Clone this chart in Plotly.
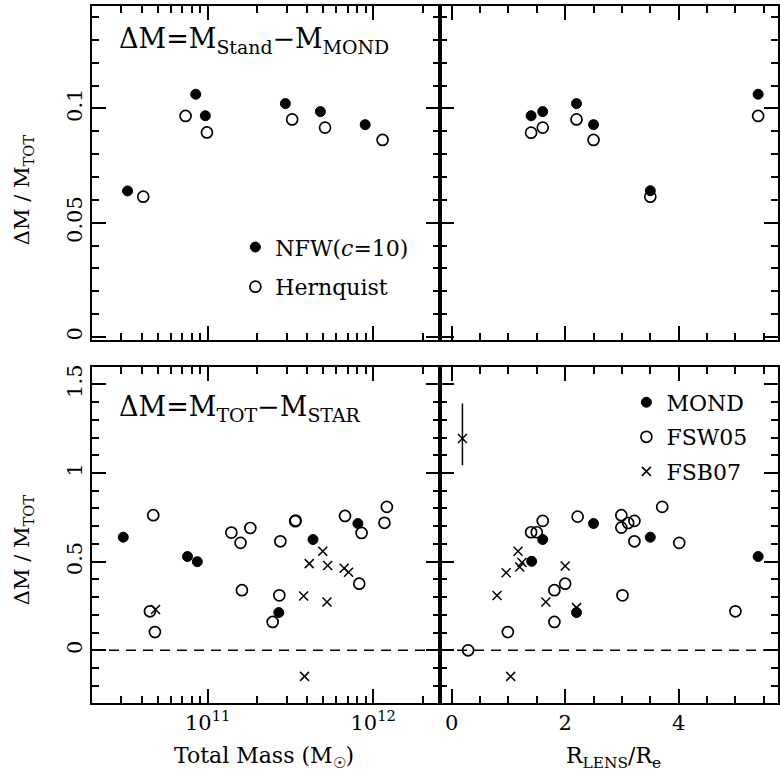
import plotly.graph_objects as go
import math

# ---- data: top panels (Delta M = M_Stand - M_MOND) ----
nfw_mass = [3.28e10, 8.47e10, 9.68e10, 2.95e11, 4.80e11, 8.95e11]
nfw_dm = [0.0639, 0.1062, 0.0968, 0.1021, 0.0986, 0.0929]
hern_mass = [4.08e10, 7.35e10, 9.90e10, 3.24e11, 5.12e11, 1.14e12]
hern_dm = [0.0614, 0.0967, 0.0895, 0.0952, 0.0916, 0.0862]
nfw_r = [1.40, 1.605, 2.20, 2.50, 3.50, 5.40]
nfw_dm_r = [0.0968, 0.0986, 0.1021, 0.0929, 0.0640, 0.1062]
hern_r = [1.40, 1.605, 2.20, 2.50, 3.50, 5.40]
hern_dm_r = [0.0894, 0.0916, 0.0952, 0.0862, 0.0614, 0.0967]

# ---- data: bottom panels (Delta M = M_TOT - M_STAR) ----
mond_mass = [3.09e10, 7.55e10, 8.66e10, 2.69e11, 4.33e11, 8.09e11]
mond_dm = [0.638, 0.529, 0.500, 0.213, 0.625, 0.715]
mond_r = [1.41, 1.605, 2.20, 2.50, 3.50, 5.40]
mond_dm_r = [0.502, 0.625, 0.213, 0.715, 0.638, 0.529]

fsw_mass = [4.69e10, 4.48e10, 4.80e10, 1.39e11, 1.58e11, 1.81e11, 1.61e11, 2.47e11, 2.71e11,
            2.75e11, 3.38e11, 3.40e11, 6.76e11, 8.51e11, 8.24e11, 1.17e12, 1.21e12]
fsw_dm = [0.762, 0.220, 0.103, 0.664, 0.606, 0.690, 0.339, 0.160, 0.310,
          0.615, 0.728, 0.732, 0.758, 0.662, 0.376, 0.719, 0.809]
fsw_r = [0.29, 0.99, 1.40, 1.50, 1.605, 1.81, 1.81, 2.00, 2.22, 2.99, 2.99, 3.11, 3.22, 3.22,
         3.01, 3.71, 4.01, 5.00]
fsw_dm_r = [0.0, 0.103, 0.666, 0.666, 0.730, 0.339, 0.160, 0.376, 0.754, 0.762, 0.692, 0.718,
            0.730, 0.615, 0.310, 0.809, 0.606, 0.220]

fsb_mass = [4.84e10, 3.85e11, 3.80e11, 4.11e11, 4.96e11, 5.31e11, 5.26e11, 6.68e11, 7.10e11]
fsb_dm = [0.230, -0.147, 0.306, 0.489, 0.559, 0.478, 0.273, 0.463, 0.440]
fsb_r = [0.80, 0.96, 1.17, 1.20, 1.24, 1.66, 2.00, 2.20, 1.04]
fsb_dm_r = [0.309, 0.438, 0.559, 0.470, 0.495, 0.273, 0.476, 0.241, -0.147]

# representative error bar
err_r = [0.19]
err_dm = [1.195]
err_plus = [0.197]
err_minus = [0.151]

mass_ticks = [1e11, 1e12]
mass_ticktext = ["10<sup>11</sup>", "10<sup>12</sup>"]

FONT = "DejaVu Serif"
BLACK = "black"

filled = dict(symbol="circle", size=10, color=BLACK, line=dict(width=1, color=BLACK))
opened = dict(symbol="circle-open", size=11, color=BLACK, line=dict(width=1.7, color=BLACK))
cross = dict(symbol="x-thin-open", size=9, color=BLACK, line=dict(width=1.5, color=BLACK))

fig = go.Figure()

def sc(x, y, xa, ya, marker, name=None, legend=None, show=False, group=None, rank=1000):
    return go.Scatter(x=x, y=y, mode="markers", xaxis=xa, yaxis=ya, marker=marker,
                      name=name, showlegend=show, legend=legend, legendgroup=group,
                      legendrank=rank)

# top-left
fig.add_trace(sc(nfw_mass, nfw_dm, "x", "y", filled, "NFW(<i>c</i>=10)", "legend", True, "a", 1))
fig.add_trace(sc(hern_mass, hern_dm, "x", "y", opened, "Hernquist", "legend", True, "b", 2))
# top-right
fig.add_trace(sc(nfw_r, nfw_dm_r, "x2", "y2", filled))
fig.add_trace(sc(hern_r, hern_dm_r, "x2", "y2", opened))
# bottom-left
fig.add_trace(sc(fsb_mass, fsb_dm, "x3", "y3", cross))
fig.add_trace(sc(fsw_mass, fsw_dm, "x3", "y3", opened))
fig.add_trace(sc(mond_mass, mond_dm, "x3", "y3", filled))
# bottom-right
fig.add_trace(sc(fsb_r, fsb_dm_r, "x4", "y4", cross, "FSB07", "legend2", True, "c3", 3))
fig.add_trace(sc(fsw_r, fsw_dm_r, "x4", "y4", opened, "FSW05", "legend2", True, "c2", 2))
fig.add_trace(sc(mond_r, mond_dm_r, "x4", "y4", filled, "MOND", "legend2", True, "c1", 1))
fig.add_trace(go.Scatter(x=err_r, y=err_dm, mode="markers", xaxis="x4", yaxis="y4",
                         marker=cross, showlegend=False,
                         error_y=dict(type="data", array=err_plus, arrayminus=err_minus,
                                      width=0, thickness=1.5, color=BLACK)))

tickfont = dict(family=FONT, size=21, color=BLACK)
common = dict(showline=True, linewidth=2, linecolor=BLACK, mirror="allticks",
              ticks="inside", ticklen=14, tickwidth=1.5, tickcolor=BLACK,
              showgrid=False, zeroline=False, tickfont=tickfont)

def minor(dt, **kw):
    d = dict(ticks="inside", ticklen=7, tickwidth=1.5, tickcolor=BLACK, showgrid=False, dtick=dt)
    d.update(kw)
    return d

xl_dom = [0, 0.5073]
xr_dom = [0.5073, 1]
yt_dom = [0.5208, 1]
yb_dom = [0, 0.4816]
logrange = [math.log10(2.0e10), math.log10(2.535e12)]
rrange = [-0.205, 5.75]

fig.update_layout(
    width=780, height=772,
    margin=dict(l=92, r=0, t=6, b=69),
    paper_bgcolor="white", plot_bgcolor="white",
    font=dict(family=FONT, color=BLACK),
    xaxis=dict(domain=xl_dom, anchor="y", type="log", range=logrange,
               tickvals=mass_ticks, ticktext=mass_ticktext, showticklabels=False,
               minor=minor("D1"), **common),
    xaxis2=dict(domain=xr_dom, anchor="y2", range=rrange, tick0=0, dtick=2,
                showticklabels=False, minor=minor(0.5), **common),
    xaxis3=dict(domain=xl_dom, anchor="y3", type="log", range=logrange,
                tickvals=mass_ticks, ticktext=mass_ticktext,
                minor=minor("D1"), **common),
    xaxis4=dict(domain=xr_dom, anchor="y4", range=rrange, tick0=0, dtick=2,
                minor=minor(0.5), **common),
    yaxis=dict(domain=yt_dom, anchor="x", range=[-0.0013, 0.1448], tick0=0, dtick=0.05,
               tickvals=[0, 0.05, 0.1], ticktext=["0", "0.05", "0.1"], tickangle=-90,
               minor=minor(0.01, tick0=0), **common),
    yaxis2=dict(domain=yt_dom, anchor="x2", range=[-0.0013, 0.1448], tick0=0, dtick=0.05,
                showticklabels=False, minor=minor(0.01, tick0=0), **common),
    yaxis3=dict(domain=yb_dom, anchor="x3", range=[-0.297, 1.596], tick0=0, dtick=0.5,
                tickvals=[0, 0.5, 1, 1.5], ticktext=["0", "0.5", "1", "1.5"], tickangle=-90,
                minor=minor(0.1, tick0=0), **common),
    yaxis4=dict(domain=yb_dom, anchor="x4", range=[-0.297, 1.596], tick0=0, dtick=0.5,
                showticklabels=False, minor=minor(0.1, tick0=0), **common),
    legend=dict(x=0.209, y=0.684, xanchor="left", yanchor="top", bgcolor="rgba(0,0,0,0)",
                borderwidth=0, tracegroupgap=8, traceorder="grouped",
                font=dict(family=FONT, size=22, color=BLACK)),
    legend2=dict(x=0.779, y=0.4614, xanchor="left", yanchor="top", bgcolor="rgba(0,0,0,0)",
                 borderwidth=0, tracegroupgap=3, traceorder="grouped",
                 font=dict(family=FONT, size=22, color=BLACK)),
)

# dashed zero lines in bottom panels
for xr, yr in (("x3", "y3"), ("x4", "y4")):
    fig.add_shape(type="line", xref=xr + " domain", yref=yr, x0=0, x1=1, y0=0, y1=0,
                  line=dict(color=BLACK, width=1.5, dash="10px,7px"), layer="below")

ann_font = dict(family=FONT, size=21, color=BLACK)
fig.add_annotation(text="ΔM=M<sub>Stand</sub>−M<sub>MOND</sub>", xref="paper", yref="paper",
                   x=(117 - 92) / 688, y=(703 - 40) / 697, xanchor="left", yanchor="middle",
                   showarrow=False, font=dict(family=FONT, size=27, color=BLACK))
fig.add_annotation(text="ΔM=M<sub>TOT</sub>−M<sub>STAR</sub>", xref="paper", yref="paper",
                   x=(117 - 92) / 688, y=(703 - 409) / 697, xanchor="left", yanchor="middle",
                   showarrow=False, font=dict(family=FONT, size=27, color=BLACK))
for yc in (190, 550):
    fig.add_annotation(text="ΔM / M<sub>TOT</sub>", xref="paper", yref="paper",
                       x=(23 - 92) / 688, y=(703 - yc) / 697, xanchor="center", yanchor="middle",
                       textangle=-90, showarrow=False, font=ann_font)
fig.add_annotation(text="Total Mass (M<sub>☉</sub>)", xref="paper", yref="paper",
                   x=(265 - 92) / 688, y=(703 - 757) / 697, xanchor="center", yanchor="middle",
                   showarrow=False, font=dict(family=FONT, size=22, color=BLACK))
fig.add_annotation(text="R<sub>LENS</sub>/R<sub>e</sub>", xref="paper", yref="paper",
                   x=(615 - 92) / 688, y=(703 - 757) / 697, xanchor="center", yanchor="middle",
                   showarrow=False, font=dict(family=FONT, size=22, color=BLACK))

fig.write_html("out.html", config={"displayModeBar": False},
               post_script="document.body.style.margin='0';document.body.style.padding='0';")
